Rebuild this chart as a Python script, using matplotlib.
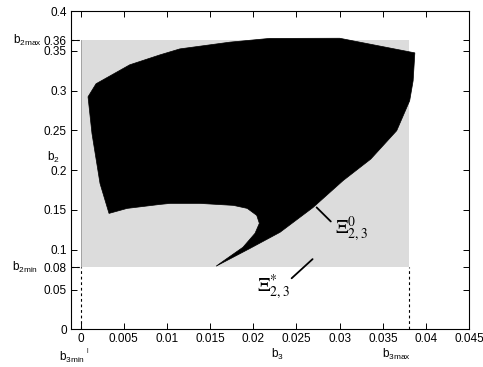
import matplotlib
matplotlib.use("Agg")
import matplotlib.pyplot as plt
from matplotlib.patches import Polygon, Rectangle

plt.rcParams["font.family"] = ["Liberation Sans", "DejaVu Sans"]
plt.rcParams["mathtext.fontset"] = "custom"
plt.rcParams["mathtext.rm"] = "Liberation Sans"
plt.rcParams["mathtext.it"] = "Liberation Sans:italic"

# parameter box limits
b3_min, b3_max = 0.0001, 0.038
b2_min, b2_max = 0.078, 0.3635

# outline of the black region (b3, b2)
region_b3 = [0.00087, 0.0018, 0.0057, 0.0092, 0.0115, 0.0173, 0.0219, 0.0300,
             0.0387, 0.0385, 0.0381, 0.0366, 0.0336, 0.0304, 0.0269, 0.0231,
             0.0195, 0.0157, 0.0165, 0.0188, 0.0202, 0.0207, 0.0204, 0.0193,
             0.0177, 0.0138, 0.0104, 0.0092, 0.0054, 0.0033, 0.00226, 0.00133]
region_b2 = [0.2923, 0.3087, 0.3325, 0.345, 0.3525, 0.361, 0.3657, 0.3659,
             0.3475, 0.3124, 0.2873, 0.2497, 0.2140, 0.187, 0.153, 0.122,
             0.101, 0.0794, 0.0856, 0.1031, 0.1207, 0.1332, 0.1432, 0.152,
             0.1558, 0.1583, 0.1583, 0.157, 0.152, 0.1457, 0.1833, 0.246]

x_ticks = [0, 0.005, 0.01, 0.015, 0.02, 0.025, 0.03, 0.035, 0.04, 0.045]
x_labels = ["0", "0.005", "0.01", "0.015", "0.02", "0.025", "0.03", "0.035", "0.04", "0.045"]
y_ticks = [0, 0.05, b2_min, 0.1, 0.15, 0.2, 0.25, 0.3, 0.35, b2_max, 0.4]
y_labels = ["0", "0.05", "0.08", "0.1", "0.15", "0.2", "0.25", "0.3", "0.35", "0.36", "0.4"]

fig = plt.figure(figsize=(4.83, 3.67), dpi=100)
ax = fig.add_axes([0.147, 0.1027, 0.8246, 0.867])
ax.set_xlim(-0.0011, 0.045)
ax.set_ylim(0, 0.4)

ax.add_patch(Rectangle((b3_min, b2_min), b3_max - b3_min, b2_max - b2_min,
                       facecolor="#dcdcdc", edgecolor="none", zorder=1))
ax.plot([b3_min, b3_min], [b2_min, b2_max], color="#9a9a9a", lw=0.6, zorder=1.5)
ax.add_patch(Polygon(list(zip(region_b3, region_b2)), closed=True,
                     facecolor="black", edgecolor="black", lw=0.5, zorder=2))

dash = dict(color="black", lw=0.8, ls=(0, (2.5, 2.5)), zorder=3, clip_on=False)
ax.plot([-0.0011, b3_min], [b2_max, b2_max], **dash)
ax.plot([-0.0011, b3_min], [b2_min, b2_min], **dash)
ax.plot([b3_min, b3_min], [0, b2_min], **dash)
ax.plot([b3_max, b3_max], [0, b2_min], **dash)

# annotation lines and labels
ax.annotate("", xy=(0.0271, 0.1557), xytext=(0.0292, 0.1331),
            arrowprops=dict(arrowstyle="-", color="black", lw=1.3))
ax.text(0.0294, 0.1205, r"$\Xi^{0}_{2,3}$", fontsize=14, va="baseline",
        ha="left", math_fontfamily="stix")
ax.annotate("", xy=(0.0271, 0.0906), xytext=(0.0242, 0.0618),
            arrowprops=dict(arrowstyle="-", color="black", lw=1.3))
ax.text(0.0204, 0.048, r"$\Xi^{*}_{2,3}$", fontsize=14, va="baseline",
        ha="left", math_fontfamily="stix")

ax.set_xticks(x_ticks)
ax.set_xticklabels(x_labels)
ax.set_yticks(y_ticks)
ax.set_yticklabels(y_labels)
ax.tick_params(direction="in", length=4, width=0.7, labelsize=8.5,
               top=True, right=True, pad=3)
for s in ax.spines.values():
    s.set_linewidth(0.8)

# axis symbol labels
ax.text(-0.00455, 0.3635, r"$\mathrm{b}_{\mathrm{2max}}$", fontsize=8.5,
        ha="right", va="center", clip_on=False)
ax.text(-0.0049, 0.078, r"$\mathrm{b}_{\mathrm{2min}}$", fontsize=8.5,
        ha="right", va="center", clip_on=False)
ax.text(-0.0031, 0.216, r"$\mathrm{b}_{\mathrm{2}}$", fontsize=8.5,
        ha="center", va="center", clip_on=False)
ax.text(-0.001, -0.035, r"$\mathrm{b}_{\mathrm{3min}}$", fontsize=8.5,
        ha="center", va="center", clip_on=False)
ax.text(0.00075, -0.0265, "|", fontsize=4.5, ha="center", va="center", clip_on=False)
ax.text(0.0228, -0.032, r"$\mathrm{b}_{\mathrm{3}}$", fontsize=8.5,
        ha="center", va="center", clip_on=False)
ax.text(0.0366, -0.032, r"$\mathrm{b}_{\mathrm{3max}}$", fontsize=8.5,
        ha="center", va="center", clip_on=False)

fig.savefig("out.png", dpi=100, facecolor="white")
